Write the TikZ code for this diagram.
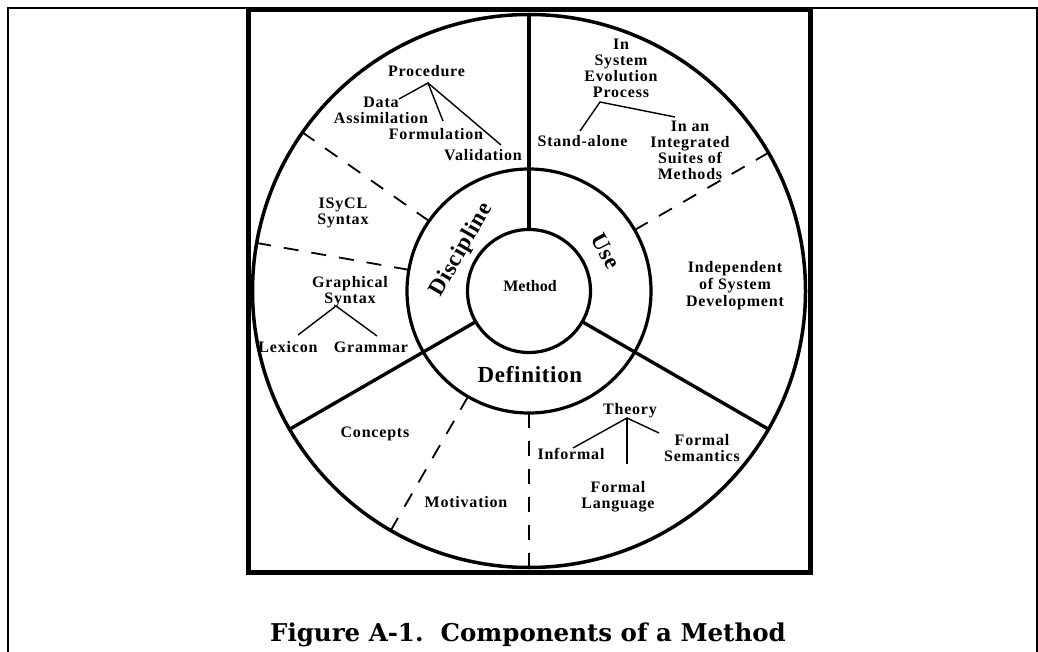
\documentclass[tikz,border=0pt]{standalone}
\usepackage{fontspec}
\setmainfont{Liberation Serif}
\newfontfamily\lblfam{Liberation Serif}[LetterSpace=5]
\newfontfamily\bigfam{Liberation Serif}[LetterSpace=3]
\newfontfamily\capfam{DejaVu Serif}
\usetikzlibrary{calc}
\begin{document}
\begin{tikzpicture}[x=1pt,y=-1pt,
  lbl/.style={font=\lblfam\bfseries\fontsize{16}{16}\selectfont, align=center, inner sep=0pt, anchor=base},
  big/.style={font=\bigfam\bfseries\fontsize{23}{23}\selectfont, inner sep=0pt},
  ring/.style={line width=3.2pt},
  divider/.style={line width=3.4pt},
  sector/.style={line width=1.8pt, dash pattern=on 15pt off 13pt},
  branch/.style={line width=1.4pt},
  frame/.style={line width=2.5pt},
  thickframe/.style={line width=5pt}
]
\path[use as bounding box] (0,0) rectangle (1038,652);
\fill[white] (0,0) rectangle (1038,652);
% outer thin frame
\draw[frame] (8,653) -- (8,8) -- (1037,8) -- (1037,653);
% thick frame
\draw[thickframe] (248,10) rectangle (810,572);
% circles
\coordinate (O) at (529,291);
\draw[ring, line width=3.5pt] (O) circle[radius=276.5];
\draw[ring] (O) circle[radius=122];
\draw[ring] (O) circle[radius=61.5];
% solid dividers
\foreach \a in {-90,150,30}{
  \draw[divider] ($(O)+(\a:61.5)$) -- ($(O)+(\a:276.5)$);
}
% dashed dividers
\foreach \a in {-145,-170,-30,120,90}{
  \draw[sector] ($(O)+(\a:122)$) -- ($(O)+(\a:276.5)$);
}
% central labels
\node[font=\bfseries\fontsize{16}{16}\selectfont, inner sep=0pt, anchor=base] (meth) at (530,291) {Method};
\node[big, anchor=base] (defn) at (530,382) {Definition};
\node[big, rotate=60] (disc) at (462,250) {Discipline};
\node[big, rotate=-62] (use) at (606,251) {Use};
% Discipline sector
\node[lbl] (proc) at (426.5,77) {Procedure};
\node[lbl] (data) at (381,124) {Data\\Assimilation};
\node[lbl] (form) at (436,140) {Formulation};
\node[lbl] (valid) at (483,161) {Validation};
\coordinate (procA) at (428,83);
\coordinate (dataE) at (399,99);
\coordinate (formE) at (443,121);
\coordinate (validE) at (501,145);
\draw[branch] (dataE) -- (procA) -- (formE);
\draw[branch] (procA) -- (validE);
\node[lbl] (isycl) at (343,225) {ISyCL\\Syntax};
\node[lbl] (graph) at (350,303) {Graphical\\Syntax};
\node[lbl] (lex) at (288,352) {Lexicon};
\node[lbl] (gram) at (371,352) {Grammar};
\coordinate (graphA) at (336,306);
\coordinate (lexE) at (298,335);
\coordinate (gramE) at (377,336);
\draw[branch] (lexE) -- (graphA) -- (gramE);
% Use sector
\node[lbl] (insys) at (621,98) {In\\System\\Evolution\\Process};
\node[lbl] (stand) at (582.5,147) {Stand-alone};
\node[lbl] (integ) at (690,180) {In an\\Integrated\\Suites of\\Methods};
\coordinate (useA) at (600,102);
\coordinate (standE) at (580,131);
\coordinate (integE) at (675,117);
\draw[branch] (standE) -- (useA) -- (integE);
\node[lbl] (indep) at (735,306) {Independent\\[1pt]of System\\[1pt]Development};
% Definition sector
\node[lbl] (conc) at (375,437) {Concepts};
\node[lbl] (motiv) at (466,507) {Motivation};
\node[lbl] (theory) at (630,414) {Theory};
\node[lbl] (inf) at (571,459) {Informal};
\node[lbl] (fsem) at (702,461) {Formal\\Semantics};
\node[lbl] (flang) at (618,508) {Formal\\Language};
\coordinate (theoA) at (627,418);
\coordinate (infE) at (573,448);
\coordinate (fsemE) at (659,433);
\coordinate (flangE) at (627,464);
\draw[branch] (infE) -- (theoA) -- (fsemE);
\draw[branch] (theoA) -- (flangE);
% caption
\node[font=\capfam\bfseries\fontsize{24.5}{24.5}\selectfont, inner sep=0pt, anchor=base] (cap) at (528,641) {Figure A-1.\ \ Components of a Method};
\end{tikzpicture}
\end{document}
